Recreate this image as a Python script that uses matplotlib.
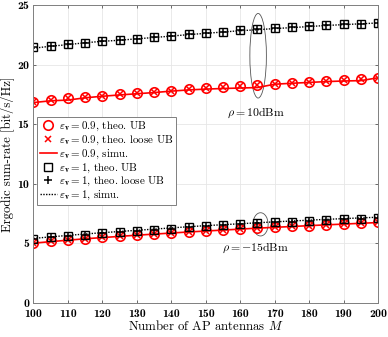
import matplotlib
matplotlib.use("Agg")
import matplotlib.pyplot as plt
from matplotlib.patches import Ellipse

plt.rcParams['mathtext.fontset'] = 'cm'
plt.rcParams['font.family'] = ['cmr10', 'DejaVu Serif']
plt.rcParams['axes.unicode_minus'] = False

M = [100, 105, 110, 115, 120, 125, 130, 135, 140, 145, 150,
     155, 160, 165, 170, 175, 180, 185, 190, 195, 200]

# rho = 10 dBm
hi_e09_ub = [16.89, 17.03, 17.17, 17.30, 17.40, 17.51, 17.60, 17.69, 17.80, 17.92, 18.04,
             18.15, 18.25, 18.32, 18.40, 18.48, 18.55, 18.63, 18.70, 18.77, 18.90]
hi_e09_loose = [16.89, 17.03, 17.17, 17.30, 17.40, 17.51, 17.60, 17.69, 17.80, 17.92, 18.04,
                18.15, 18.25, 18.32, 18.40, 18.48, 18.55, 18.63, 18.70, 18.77, 18.90]
hi_e09_sim = [16.82, 16.97, 17.03, 17.22, 17.35, 17.46, 17.56, 17.66, 17.78, 17.88, 17.95,
              18.00, 18.04, 18.08, 18.36, 18.44, 18.51, 18.58, 18.63, 18.66, 18.90]
hi_e1_ub = [21.45, 21.60, 21.72, 21.86, 21.97, 22.07, 22.19, 22.29, 22.43, 22.56, 22.68,
            22.77, 22.88, 22.96, 23.05, 23.13, 23.23, 23.31, 23.38, 23.45, 23.52]
hi_e1_loose = [21.45, 21.60, 21.72, 21.86, 21.97, 22.07, 22.19, 22.29, 22.43, 22.56, 22.68,
               22.77, 22.88, 22.96, 23.05, 23.13, 23.23, 23.31, 23.38, 23.45, 23.52]
hi_e1_sim = [21.38, 21.55, 21.68, 21.84, 21.96, 22.05, 22.17, 22.28, 22.40, 22.52, 22.63,
             22.74, 22.85, 22.93, 23.03, 23.11, 23.20, 23.29, 23.36, 23.43, 23.50]

# rho = -15 dBm
lo_e09_ub = [5.05, 5.17, 5.29, 5.40, 5.50, 5.60, 5.70, 5.79, 5.88, 5.97, 6.05,
             6.13, 6.21, 6.29, 6.36, 6.43, 6.50, 6.57, 6.63, 6.70, 6.76]
lo_e09_loose = [5.05, 5.17, 5.29, 5.40, 5.50, 5.60, 5.70, 5.79, 5.88, 5.97, 6.05,
                6.13, 6.21, 6.29, 6.36, 6.43, 6.50, 6.57, 6.63, 6.70, 6.76]
lo_e09_sim = [5.02, 5.15, 5.27, 5.39, 5.49, 5.59, 5.69, 5.78, 5.87, 5.96, 6.04,
              6.12, 6.20, 6.28, 6.35, 6.42, 6.49, 6.56, 6.62, 6.69, 6.75]
lo_e1_ub = [5.37, 5.50, 5.62, 5.74, 5.85, 5.95, 6.05, 6.15, 6.25, 6.35, 6.44,
            6.52, 6.60, 6.68, 6.76, 6.83, 6.90, 6.97, 7.03, 7.09, 7.15]
lo_e1_loose = [5.37, 5.50, 5.62, 5.74, 5.85, 5.95, 6.05, 6.15, 6.25, 6.35, 6.44,
               6.52, 6.60, 6.68, 6.76, 6.83, 6.90, 6.97, 7.03, 7.09, 7.15]
lo_e1_sim = [5.42, 5.55, 5.67, 5.79, 5.90, 6.00, 6.10, 6.20, 6.30, 6.40, 6.49,
             6.57, 6.65, 6.73, 6.81, 6.88, 6.95, 7.02, 7.08, 7.14, 7.20]

xticks = [100, 110, 120, 130, 140, 150, 160, 170, 180, 190, 200]
yticks = [0, 5, 10, 15, 20, 25]

labels = [r'$\varepsilon_{\mathbf{v}} = 0.9$, theo. UB',
          r'$\varepsilon_{\mathbf{v}} = 0.9$, theo. loose UB',
          r'$\varepsilon_{\mathbf{v}} = 0.9$, simu.',
          r'$\varepsilon_{\mathbf{v}} = 1$, theo. UB',
          r'$\varepsilon_{\mathbf{v}} = 1$, theo. loose UB',
          r'$\varepsilon_{\mathbf{v}} = 1$, simu.']

fig = plt.figure(figsize=(3.88, 3.37), dpi=100)
ax = fig.add_axes([0.0863, 0.1009, 0.888, 0.884])

red = '#ff0000'
lw = 1.2

h = [None] * 6
for ub, loose, sim, e1 in [(hi_e09_ub, hi_e09_loose, hi_e09_sim, False),
                           (lo_e09_ub, lo_e09_loose, lo_e09_sim, False),
                           (hi_e1_ub, hi_e1_loose, hi_e1_sim, True),
                           (lo_e1_ub, lo_e1_loose, lo_e1_sim, True)]:
    if not e1:
        h[2], = ax.plot(M, sim, '-', color=red, lw=lw)
        h[0], = ax.plot(M, ub, 'o', mfc='none', mec=red, ms=6.8, mew=1.2, ls='none')
        h[1], = ax.plot(M, loose, 'x', color=red, ms=4.5, mew=1.1, ls='none')
    else:
        h[5], = ax.plot(M, sim, ls=(0, (1, 1)), color='k', lw=1.0)
        h[3], = ax.plot(M, ub, 's', mfc='none', mec='k', ms=5.5, mew=1.0, ls='none')
        h[4], = ax.plot(M, loose, '+', color='k', ms=6, mew=1.1, ls='none')

ax.set_xlim(100, 200)
ax.set_ylim(0, 25)
ax.set_xticks(xticks)
ax.set_yticks(yticks)
ax.set_xticklabels([str(t) for t in xticks], fontfamily='cmb10', fontsize=8.5)
ax.set_yticklabels([str(t) for t in yticks], fontfamily='cmb10', fontsize=8.5)
ax.tick_params(direction='in', length=2.5, width=0.6, color='#555555',
               top=True, right=True)
ax.tick_params(axis='x', pad=4.5)
ax.tick_params(axis='y', pad=3)
ax.grid(True, color='#e6e6e6', lw=0.6)
ax.set_axisbelow(True)
for s in ax.spines.values():
    s.set_color('#7f7f7f')
    s.set_linewidth(0.7)

ax.set_xlabel(r'Number of AP antennas $M$', fontsize=9.2, labelpad=0)
ax.set_ylabel('Ergodic sum-rate [bit/s/Hz]', fontsize=9.2, labelpad=2)

ax.add_patch(Ellipse((165.2, 20.75), 4.8, 7.1, fill=False, ec='#555555', lw=0.6))
ax.add_patch(Ellipse((165.9, 6.6), 4.4, 1.95, fill=False, ec='#555555', lw=0.6))
ax.text(164.6, 15.95, r'$\rho = 10\mathrm{dBm}$', ha='center', va='center', fontsize=8.5)
ax.text(164.5, 4.6, r'$\rho = -15\mathrm{dBm}$', ha='center', va='center', fontsize=8.5)

leg = ax.legend(h, labels, loc='upper left', bbox_to_anchor=(0.01, 0.625),
                fontsize=7.9, handlelength=1.6, handletextpad=0.15, labelspacing=0.05,
                borderpad=0.25, borderaxespad=0.0, fancybox=False, framealpha=1)
leg.get_frame().set_edgecolor('#7f7f7f')
leg.get_frame().set_linewidth(0.7)

fig.savefig('out.png', dpi=100)
